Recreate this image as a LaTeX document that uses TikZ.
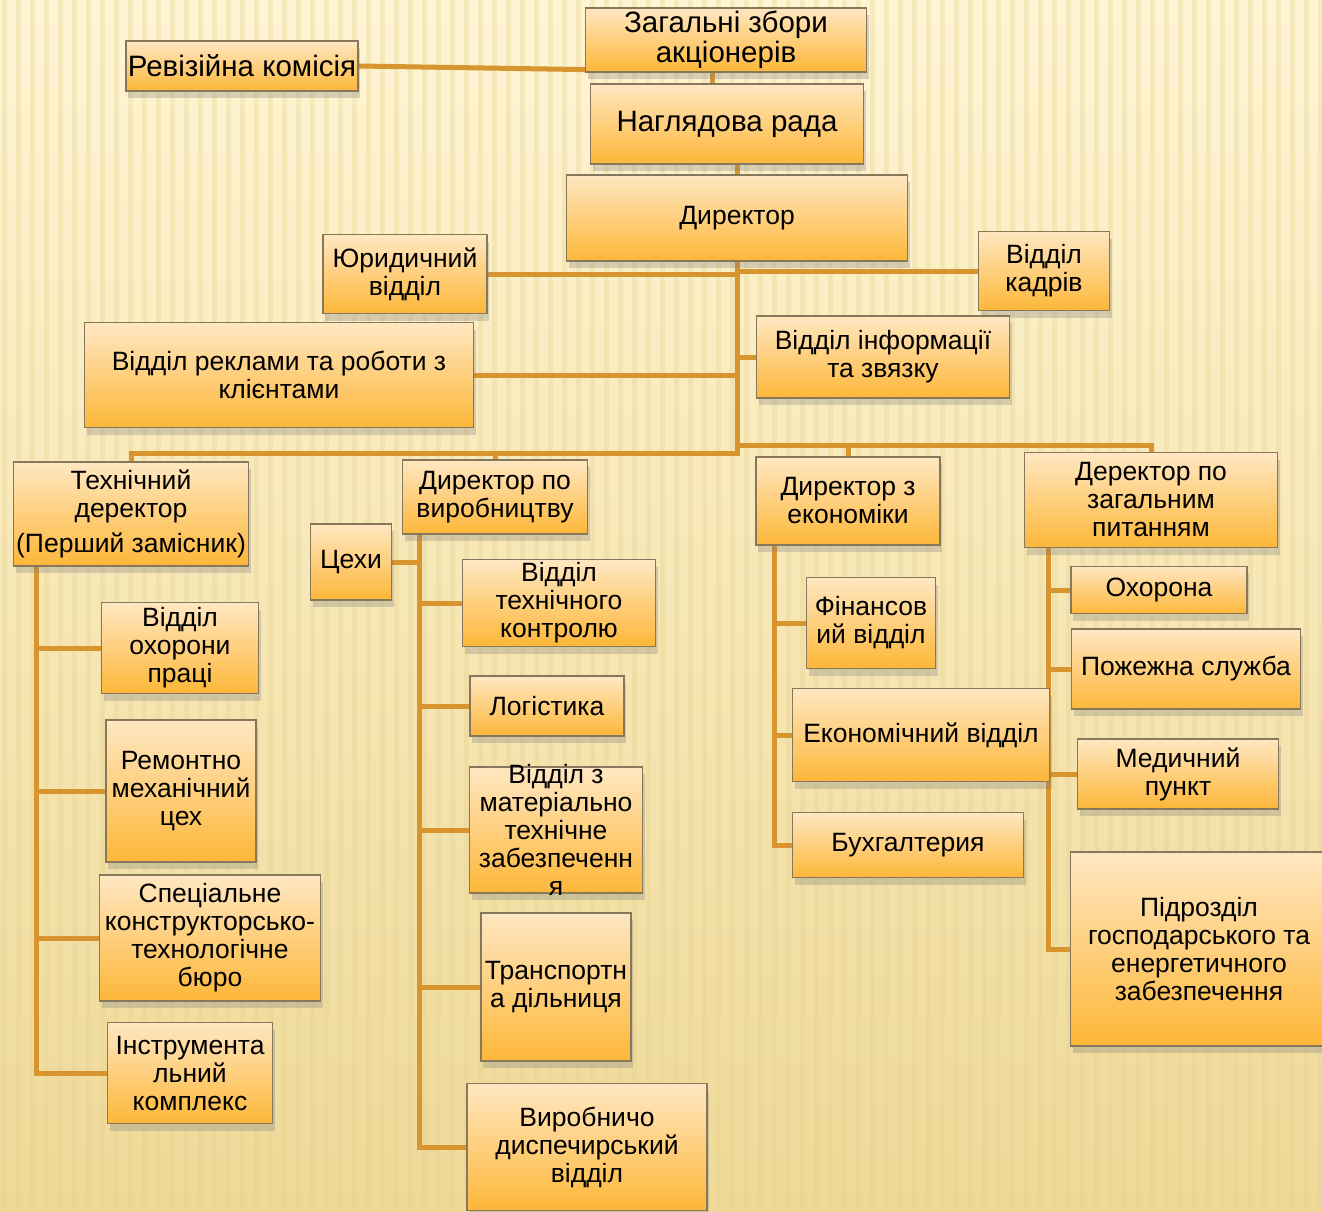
\documentclass[tikz,border=0pt]{standalone}
\usepackage{fontspec}
\setmainfont{Liberation Sans}
\usetikzlibrary{shadows}
\definecolor{linkcol}{RGB}{216,148,46}
\definecolor{boxtop}{RGB}{255,231,194}
\definecolor{boxbot}{RGB}{253,183,56}
\definecolor{boxline}{RGB}{135,120,92}
\definecolor{bgtop}{RGB}{254,245,212}
\definecolor{bgbot}{RGB}{238,217,152}
\definecolor{bgstripe}{RGB}{232,208,140}
\pgfdeclarelayer{paper}
\pgfdeclarelayer{background}
\pgfsetlayers{paper,background,main}

\begin{document}
\begin{tikzpicture}[x=1pt,y=-1pt,
  unit/.style={draw=boxline, line width=1.2pt, top color=boxtop, bottom color=boxbot,
    inner sep=0pt, align=center, font=\fontsize{26.5}{28}\selectfont,
    drop shadow={opacity=0.3, shadow xshift=2pt, shadow yshift=-7pt}},
  big/.style={font=\fontsize{29.5}{30}\selectfont},
  sz/.style 2 args={minimum width=#1pt, minimum height=#2pt},
  link/.style={draw=linkcol, line width=5pt}]
 \useasboundingbox (0,0) rectangle (1322,1211);
 \begin{pgfonlayer}{paper}
  \shade[top color=bgtop, bottom color=bgbot] (0,0) rectangle (1322,1211); %фон
  \foreach \i in {4,18,...,1322}
   \draw[bgstripe, line width=5pt, opacity=0.3] (\i,0) -- (\i,1211); %смуги
 \end{pgfonlayer}
 % верх
 \node[unit, big, sz={232}{50}] (rev) at (242,66) {Ревізійна комісія};
 \node[unit, big, sz={281}{64}] (zbory) at (726,40) {Загальні збори\\акціонерів};
 \node[unit, big, sz={273}{80}] (nagl) at (727,124) {Наглядова рада};
 \node[unit, sz={341}{86}] (dir) at (737,218) {Директор};
 \node[unit, sz={164}{79}] (yur) at (405,274) {Юридичний\\відділ};
 \node[unit, sz={131}{79}] (kadry) at (1044,271) {Відділ\\кадрів};
 \node[unit, sz={389}{105}] (reklama) at (279,375) {Відділ реклами та роботи з\\клієнтами};
 \node[unit, sz={253}{82}] (info) at (883,357) {Відділ інформації\\та звязку};
 % заступники
 \node[unit, sz={235}{104}] (tech) at (131,514) {Технічний\\деректор\\[7pt](Перший замісник)};
 \node[unit, sz={185}{74}] (vyrob) at (495,497) {Директор по\\виробництву};
 \node[unit, sz={184}{88}] (ekon) at (848,501) {Директор з\\економіки};
 \node[unit, sz={253}{95}] (zag) at (1151,500) {Деректор по\\загальним\\питанням};
 % технічний
 \node[unit, sz={157}{91}] (okhpr) at (180,648) {Відділ\\охорони\\праці};
 \node[unit, sz={150}{142}] (remont) at (181,791) {Ремонтно\\механічний\\цех};
 \node[unit, sz={221}{126}] (skb) at (210,938) {Спеціальне\\конструкторсько-\\технологічне\\бюро};
 \node[unit, sz={165}{101}] (instr) at (190,1073) {Інструмента\\льний\\комплекс};
 % виробництво
 \node[unit, sz={81}{76}] (tsekhy) at (351,562) {Цехи};
 \node[unit, sz={193}{87}] (vtk) at (559,603) {Відділ\\технічного\\контролю};
 \node[unit, sz={154}{60}] (logist) at (547,706) {Логістика};
 \node[unit, sz={173}{126}] (mtz) at (556,830) {};
 \node[align=center, font=\fontsize{26.5}{28}\selectfont] (mtztxt) at (mtz.center)
   {Відділ з\\матеріально\\технічне\\забезпеченн\\я};
 \node[unit, sz={150}{148}] (transp) at (556,987) {Транспортн\\а дільниця};
 \node[unit, sz={240}{127}] (disp) at (587,1147) {Виробничо\\диспечирський\\відділ};
 % економіка
 \node[unit, sz={129}{91}] (fin) at (871,623) {Фінансов\\ий відділ};
 \node[unit, sz={257}{93}] (ekviddil) at (921,735) {Економічний відділ};
 \node[unit, sz={231}{65}] (bukh) at (908,845) {Бухгалтерия};
 % загальні питання
 \node[unit, sz={176}{47}] (okhorona) at (1159,590) {Охорона};
 \node[unit, sz={229}{80}] (pozh) at (1186,669) {Пожежна служба};
 \node[unit, sz={201}{70}] (med) at (1178,774) {Медичний\\пункт};
 \node[unit, sz={257}{194}] (pidr) at (1199,949) {Підрозділ\\господарського та\\енергетичного\\забезпечення};

 \begin{pgfonlayer}{background}
  \draw[link] (rev.east) -- ([yshift=3pt]zbory.south west);
  \draw[link] ([xshift=-14pt]zbory.south) -- ([xshift=-14pt]zbory.south |- nagl.north);
  \draw[link] (dir.north) -- (dir.north |- nagl.south);
  \path (dir.south) ++(0,192) coordinate (hub) ++(0,-8) coordinate (hubr);
  \draw[link] (dir.south) -- (hub) -| (tech.north);
  \draw[link] (hub -| vyrob.north) -- (vyrob.north);
  \draw[link] (hubr) -| (zag.north);
  \draw[link] (hubr -| ekon.north) -- (ekon.north);
  \foreach \n in {yur,reklama} \draw[link] (\n.east) -- (\n.east -| dir.south);
  \foreach \n in {kadry,info} \draw[link] (\n.west) -- (\n.west -| dir.south);
  % гілки
  \path (tech.south west) ++(24,0) coordinate (tb);
  \draw[link] (tb) |- (instr.west);
  \foreach \n in {okhpr,remont,skb} \draw[link] (tb |- \n.west) -- (\n.west);
  \path (vyrob.south west) ++(18,0) coordinate (vb);
  \draw[link] (vb) |- (disp.west);
  \foreach \n in {vtk,logist,mtz,transp} \draw[link] (vb |- \n.west) -- (\n.west);
  \draw[link] (tsekhy.east) -- (tsekhy.east -| vb);
  \path (ekon.south west) ++(19,0) coordinate (eb);
  \draw[link] (eb) |- (bukh.west);
  \foreach \n in {fin,ekviddil} \draw[link] (eb |- \n.west) -- (\n.west);
  \path (zag.south west) ++(25,0) coordinate (zb);
  \draw[link] (zb) |- (pidr.west);
  \foreach \n in {okhorona,pozh,med} \draw[link] (zb |- \n.west) -- (\n.west);
 \end{pgfonlayer}
\end{tikzpicture}
\end{document}
